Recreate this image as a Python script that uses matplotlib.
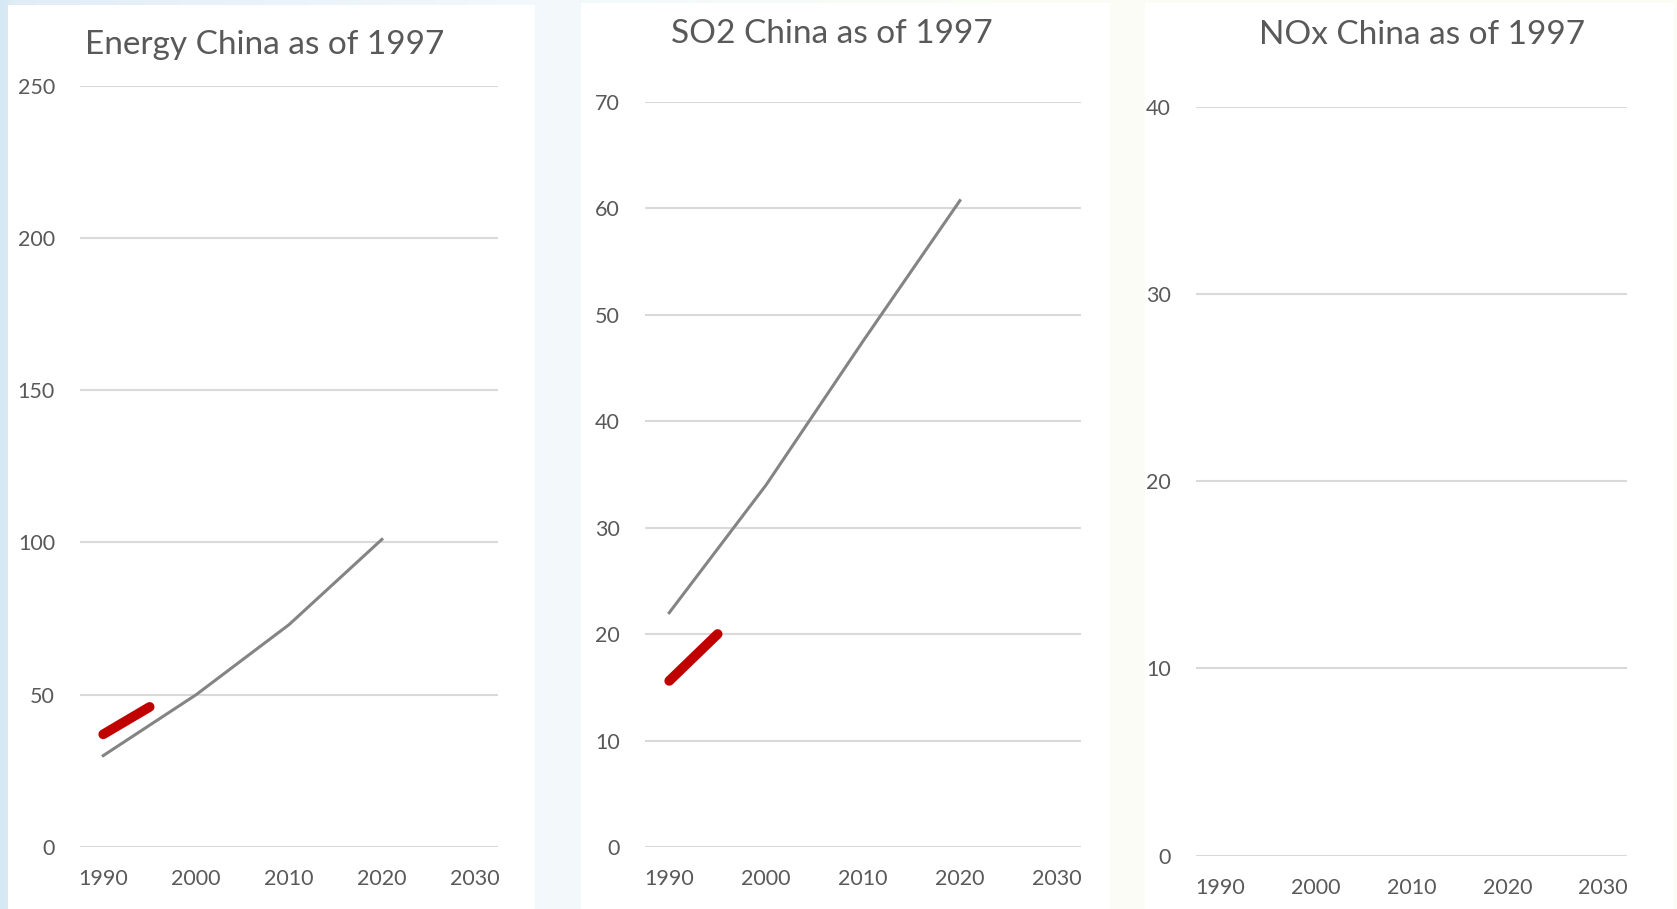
import numpy as np
import matplotlib
matplotlib.use("Agg")
import matplotlib.pyplot as plt
from matplotlib.patches import Rectangle

plt.rcParams['font.family'] = ['Lato', 'DejaVu Sans']

# Data
years_proj = [1990, 2000, 2010, 2020]
years_obs = [1990, 1995]

energy_proj = [30, 50, 73, 101]
energy_obs = [37, 46]

so2_proj = [22, 34, 47.5, 60.7]
so2_obs = [15.6, 20]

titles = ["Energy China as of 1997", "SO2 China as of 1997", "NOx China as of 1997"]
x_ticks = [1990, 2000, 2010, 2020, 2030]
energy_yticks = [0, 50, 100, 150, 200, 250]
so2_yticks = [0, 10, 20, 30, 40, 50, 60, 70]
nox_yticks = [0, 10, 20, 30, 40]

W, H = 1677, 909
fig = plt.figure(figsize=(W / 100, H / 100), dpi=100)

# Soft backdrop behind the chart panels
bg = fig.add_axes([0, 0, 1, 1], zorder=-10)
xs = np.linspace(0, 1, 512)
stops = [0.0, 0.01, 0.3, 0.6, 1.0]
cols = np.array([[0.84, 0.91, 0.96],
                 [0.88, 0.93, 0.97],
                 [0.95, 0.975, 0.99],
                 [0.985, 0.99, 0.965],
                 [0.985, 0.99, 0.96]])
img = np.stack([np.interp(xs, stops, cols[:, k]) for k in range(3)], axis=-1)[None, :, :]
bg.imshow(img, aspect='auto', extent=[0, 1, 0, 1])
bg.set_xlim(0, 1)
bg.set_ylim(0, 1)
bg.axis('off')

# White panel cards (pixel coordinates: left, right, top)
panels = [(7.5, 535, 5), (581, 1110, 3), (1145, 1674, 3)]
for l, r, top in panels:
    bg.add_patch(Rectangle((l / W, 0), (r - l) / W, 1 - top / H,
                           facecolor='white', edgecolor='none', zorder=2))

text_col = '#595959'
grid_col = '#d9d9d9'

# Axes rectangles in pixels: left, right, y of top gridline, y of zero line
axes_px = [(80, 498, 85.6, 847), (645, 1081, 101.6, 847), (1196, 1627, 107, 855.6)]
yt_all = [energy_yticks, so2_yticks, nox_yticks]
title_px = [(265, 45), (832, 34), (1422, 35)]

axs = []
for (l, r, t_, b), yt in zip(axes_px, yt_all):
    ax = fig.add_axes([l / W, (H - b) / H, (r - l) / W, (b - t_) / H])
    ax.set_facecolor('none')
    ax.set_xlim(1987.5, 2032.5)
    ax.set_ylim(yt[0], yt[-1])
    ax.set_yticks(yt)
    ax.set_xticks(x_ticks)
    ax.set_xticklabels([str(v) for v in x_ticks])
    ax.grid(axis='y', color=grid_col, linewidth=1.5, zorder=0)
    ax.set_axisbelow(True)
    for s in ax.spines.values():
        s.set_visible(False)
    ax.tick_params(axis='both', length=0, labelsize=15.5, labelcolor=text_col)
    ax.tick_params(axis='y', pad=18)
    ax.tick_params(axis='x', pad=16)
    for lab in ax.get_yticklabels():
        lab.set_clip_on(False)
    axs.append(ax)

for (x, y), ttl in zip(title_px, titles):
    fig.text(x / W, 1 - y / H, ttl, ha='center', va='center',
             fontsize=24, color=text_col)

gray = '#848484'
red = '#c00000'

axs[0].plot(years_proj, energy_proj, color=gray, linewidth=2.2, zorder=3)
axs[0].plot(years_obs, energy_obs, color=red, linewidth=7, solid_capstyle='round', zorder=4)

axs[1].plot(years_proj, so2_proj, color=gray, linewidth=2.2, zorder=3)
axs[1].plot(years_obs, so2_obs, color=red, linewidth=7, solid_capstyle='round', zorder=4)

fig.savefig("out.png", dpi=100)
